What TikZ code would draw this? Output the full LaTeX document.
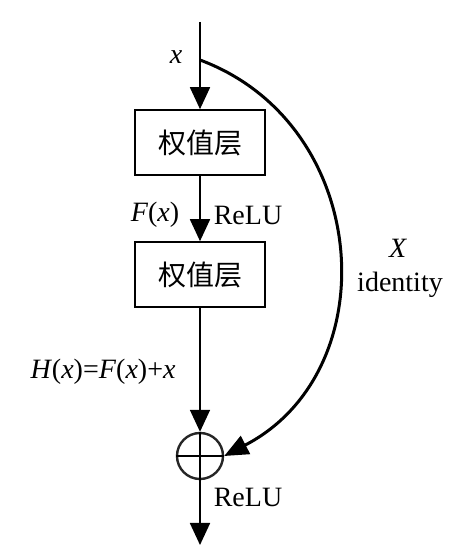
\documentclass[tikz,border=0pt]{standalone}
\usepackage{fontspec}
\setmainfont{Liberation Serif}
\newfontfamily\cjk{Noto Sans CJK SC}
\usetikzlibrary{arrows.meta}
\begin{document}
\begin{tikzpicture}[x=1pt,y=1pt,
  lbl/.style={font=\fontsize{28}{30}\selectfont, inner sep=0pt},
  layer/.style={draw, line width=1.6pt, minimum width=130pt, minimum height=65pt, inner sep=0pt, font=\cjk\fontsize{28}{30}\selectfont},
  flow/.style={line width=1.8pt, -{Triangle[width=20pt,length=22pt]}},
  skip/.style={line width=3pt, -{Triangle[width=20pt,length=24pt]}}]
\useasboundingbox (0,0) rectangle (456,557);
\coordinate (top) at (200,535);
\coordinate (branch) at (200,497);
\node[layer] (w1) at (200,414.5) {权值层};
\node[layer] (w2) at (200,282.5) {权值层};
\node[draw, circle, line width=2.4pt, draw=black!85, minimum size=46pt, inner sep=0pt] (sum) at (200,101) {};
\draw[line width=1.6pt] (sum.north) -- (sum.south) (sum.west) -- (sum.east);
\coordinate (out) at (200,12);
\draw[flow] (top) -- (w1.north);
\draw[flow] (w1.south) -- (w2.north);
\draw[flow] (w2.south) -- (sum.north);
\draw[flow] (sum.south) -- (out);
\draw[skip] (branch) .. controls (372,433) and (388,186) .. (sum.east);
\node[lbl] (lx) at (176,500) {\textit{x}};
\node[lbl] (lf) at (155,342) {\textit{F}(\textit{x})};
\node[lbl] (lr1) at (248,342) {ReLU};
\node[lbl] (lh) at (103,185) {\textit{H}(\textit{x})=\textit{F}(\textit{x})+\textit{x}};
\node[lbl] (lr2) at (248,60) {ReLU};
\node[lbl] (lX) at (398,309) {\textit{X}};
\node[lbl] (lid) at (400,272) {identity};
\end{tikzpicture}
\end{document}
